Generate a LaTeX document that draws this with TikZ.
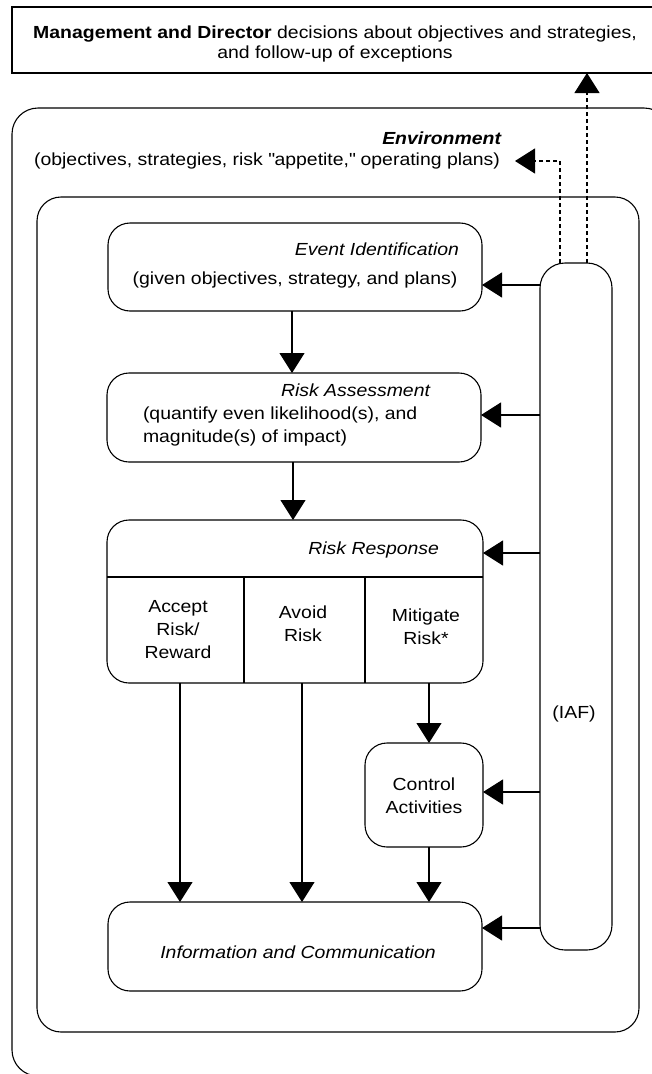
\documentclass[tikz,border=0pt]{standalone}
\usepackage{fontspec}
\setmainfont[FakeStretch=1.11]{Liberation Sans}
\usetikzlibrary{arrows.meta}
\begin{document}
\begin{tikzpicture}[x=1pt,y=-1pt,
  line width=1.1pt,
  every node/.style={inner sep=0pt, outer sep=0pt},
  txt/.style={font=\fontsize{17.5}{23}\selectfont, align=center},
  frame/.style={draw, rounded corners=#1},
  arr/.style={-{Triangle[length=20pt,width=25pt]}},
  dashline/.style={dash pattern=on 4pt off 3pt}]

\useasboundingbox (0,0) rectangle (652,1074);
\clip (0,0) rectangle (652,1074);

% Decision makers at the top
\node[draw, minimum width=648pt, minimum height=66pt] (top) at (336,40) {};
\node[txt, font=\fontsize{17.5}{20}\selectfont] (toptext) at (335,44)
  {\textbf{Management and Director} decisions about objectives and strategies,\\and follow-up of exceptions};

% Environment frame and inner process frame
\node[frame=26pt, minimum width=658pt, minimum height=968pt] (env) at (341,592) {};
\node[txt, font=\fontsize{17.5}{23}\bfseries\itshape, anchor=east] (envtitle) at (501,138) {Environment};
\node[txt, anchor=east] (envtext) at (500,161) {(objectives, strategies, risk \textquotedbl appetite,\textquotedbl{} operating plans)};
\node[frame=24pt, minimum width=602pt, minimum height=835pt] (inner) at (338,614.5) {};

% Process boxes
\node[frame=22pt, minimum width=374pt, minimum height=88pt] (ei) at (295,267) {};
\node[txt, font=\fontsize{17.5}{23}\itshape, anchor=east] (eititle) at (459,249) {Event Identification};
\node[txt] (eitext) at (295,280) {(given objectives, strategy, and plans)};

\node[frame=22pt, minimum width=374pt, minimum height=89pt] (ra) at (294,417.5) {};
\node[txt, font=\fontsize{17.5}{23}\itshape, anchor=east] (ratitle) at (430,390) {Risk Assessment};
\node[txt, align=left, anchor=north west] (ratext) at (143,407)
  {(quantify even likelihood(s), and\\magnitude(s) of impact)};

\node[frame=22pt, minimum width=376pt, minimum height=163pt] (rr) at (295,601.5) {};
\node[txt, font=\fontsize{17.5}{23}\itshape, anchor=east] (rrtitle) at (439,550) {Risk Response};
\draw (rr.west |- 0,577) -- (rr.east |- 0,577);
\draw (244,577) -- (rr.south -| 244,0);
\draw (365,577) -- (rr.south -| 365,0);
\node[txt] (accept) at (178,630) {Accept\\Risk/\\Reward};
\node[txt] (avoid) at (303,623.5) {Avoid\\Risk};
\node[txt] (mitigate) at (426,626.5) {Mitigate\\Risk*};

\node[frame=22pt, minimum width=118pt, minimum height=104pt] (ca) at (424,795) {};
\node[txt] (catext) at (424,795.5) {Control\\Activities};

\node[frame=22pt, minimum width=374pt, minimum height=89pt] (ic) at (295,946.5) {};
\node[txt, font=\fontsize{17.5}{23}\itshape] (ictext) at (298,952) {Information and Communication};

% Internal audit column
\node[frame=25pt, minimum width=72pt, minimum height=687pt] (iaf) at (576,606.5) {};
\node[txt] (iaftext) at (574,714) {(IAF)};

% Flow between the process steps
\draw[arr] (ei.south -| 292,0) -- (ra.north -| 292,0);
\draw[arr] (ra.south -| 293,0) -- (rr.north -| 293,0);
\draw[arr] (rr.south -| 180,0) -- (ic.north -| 180,0);
\draw[arr] (rr.south -| 302,0) -- (ic.north -| 302,0);
\draw[arr] (rr.south -| 429,0) -- (ca.north -| 429,0);
\draw[arr] (ca.south -| 429,0) -- (ic.north -| 429,0);

% Feedback from the audit column
\draw[arr] (iaf.west |- 0,285) -- (ei.east |- 0,285);
\draw[arr] (iaf.west |- 0,415) -- (ra.east |- 0,415);
\draw[arr] (iaf.west |- 0,553) -- (rr.east |- 0,553);
\draw[arr] (iaf.west |- 0,792) -- (ca.east |- 0,792);
\draw[arr] (iaf.west |- 0,928) -- (ic.east |- 0,928);

% Reporting upward
\coordinate (envtip) at ([xshift=15pt]envtext.east);
\draw[arr, dashline] (iaf.north -| 560,0) |- (envtip);
\draw[arr, dashline] (iaf.north -| 587,0) -- (top.south -| 587,0);
\end{tikzpicture}
\end{document}
